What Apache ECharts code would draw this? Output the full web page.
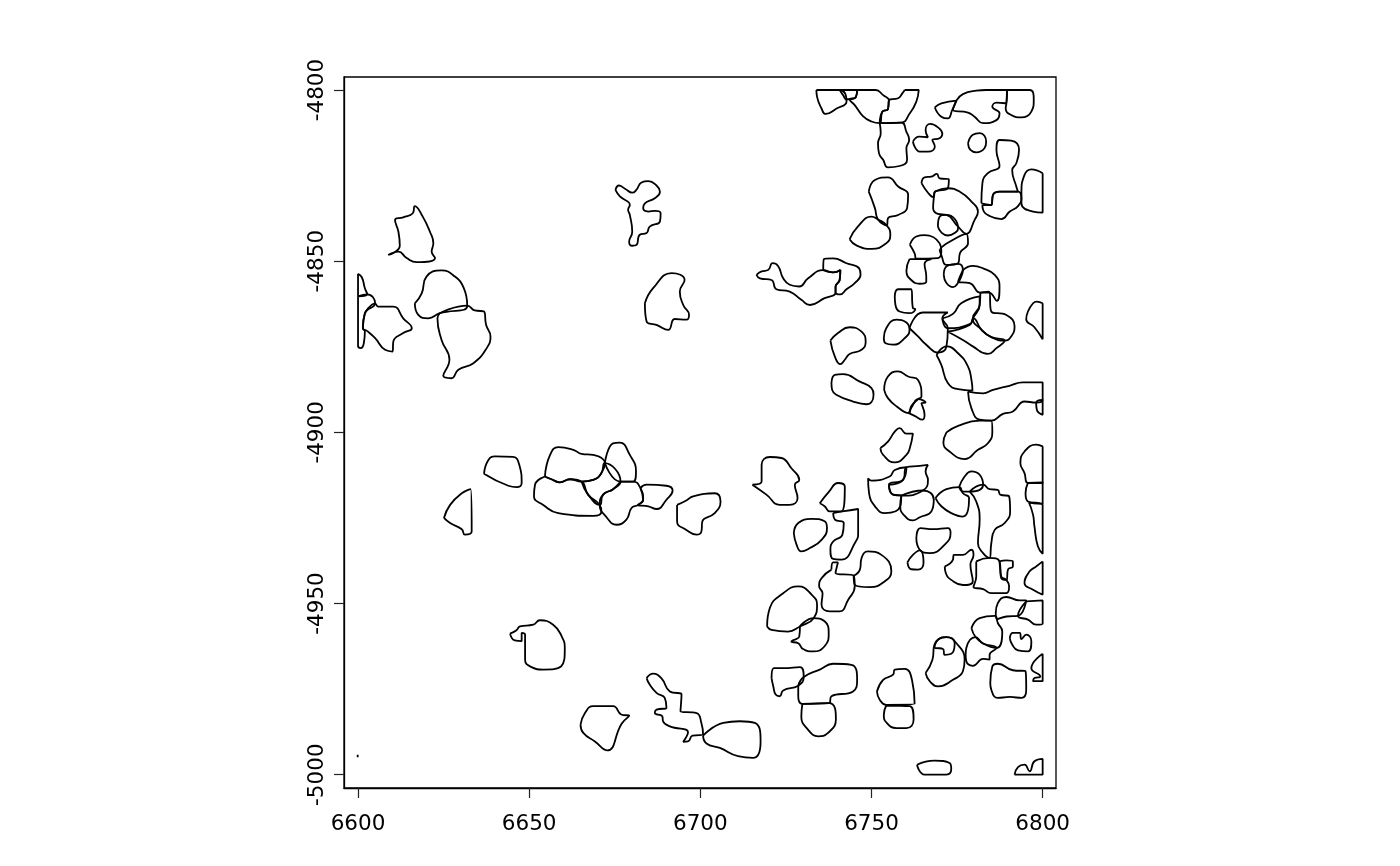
<!DOCTYPE html>
<html><head><meta charset="utf-8"><style>html,body{margin:0;padding:0;background:#fff}#c{width:1400px;height:866px}</style>
<script src="https://cdn.jsdelivr.net/npm/echarts@6/dist/echarts.min.js"></script></head>
<body><div id="c"></div>
<script>
const xTicks=[6600,6650,6700,6750,6800];
const yTicks=[-5000,-4950,-4900,-4850,-4800];
// Each outline: x,y pairs in data units
const a1=[6733.9,-4800,6740.7,-4800,6742.7,-4803.4,6739.8,-4805.4,6736.6,-4807,6735.4,-4805.4,6734.1,-4802];
const a2=[6740.7,-4800,6745.8,-4800,6745.4,-4802.1,6743.6,-4802.7,6742.7,-4802.7,6741.7,-4801.5];
const a3=[6745.8,-4800,6751.2,-4800,6753.4,-4801.5,6755.1,-4803.1,6754.8,-4805.6,6753.2,-4806.3,6752.4,-4809.7,6750,-4809.2,6747.5,-4807.6,6745.1,-4804.4,6743.6,-4802.7,6745.4,-4802.1];
const a4=[6759.7,-4800,6763.8,-4800,6763.1,-4803.4,6761.2,-4806.8,6758.7,-4809.5,6752.4,-4809.7,6753.2,-4806.3,6754.8,-4805.6,6755.1,-4802.9,6757.8,-4802.4,6759,-4801];
const a5=[6752.4,-4809.7,6758.7,-4809.5,6760.2,-4812.2,6761,-4814.6,6760.2,-4817,6760.4,-4820.4,6758.2,-4822.2,6754.8,-4822.6,6753.4,-4820.4,6752.2,-4818.5,6751.9,-4815.6,6752.7,-4812.6];
const a6=[6762.1,-4815.1,6763.9,-4813.6,6766.5,-4813.8,6765.8,-4811.7,6767.2,-4809.9,6769.4,-4810.9,6770.7,-4812.8,6769.9,-4814.1,6767.8,-4814.6,6768.5,-4816.5,6766.5,-4818,6764.1,-4818];
const a7=[6778.2,-4815.6,6779.6,-4813.1,6781.6,-4812.6,6783.5,-4815.1,6783,-4817,6780.6,-4818.2,6778.9,-4817.5];
const a8=[6768.5,-4805.1,6770.4,-4803.9,6774.8,-4803.1,6773.6,-4805.8,6772.3,-4808.3,6770.4,-4807.8];
const a9=[6774.8,-4803.1,6776.7,-4801.2,6780.6,-4800.2,6783.5,-4800,6789.6,-4800,6789.4,-4803.9,6786.5,-4803.7,6785.3,-4804.9,6787.4,-4806.8,6786.5,-4808.8,6782.6,-4809.7,6780.1,-4807.8,6778.2,-4806.6,6773.8,-4805.8];
const a10=[6789.6,-4800,6796.2,-4800,6797.4,-4802.9,6796.7,-4806.3,6793.8,-4808,6790.8,-4807.3,6789.2,-4805.4,6789.4,-4803.9];
const a11=[6782.1,-4833.1,6782.4,-4827.2,6784,-4824.3,6787.4,-4822.2,6786.5,-4817.5,6787.4,-4814.6,6790.8,-4814.8,6793.1,-4817.5,6792.3,-4821.4,6791.1,-4823.4,6792.3,-4828.2,6792.8,-4829.7,6787.4,-4829.7,6785.5,-4830.6,6785,-4833.6];
const a12=[6782.4,-4833.6,6785,-4833.6,6785.5,-4830.6,6787.4,-4829.7,6792.8,-4829.7,6793.8,-4831.6,6792.8,-4833.9,6790.4,-4835.5,6787.9,-4837.7,6784.5,-4836.8,6782.6,-4835];
const a13=[6800,-4824.3,6800,-4835.8,6797.2,-4835.5,6793.8,-4833.1,6793.8,-4830.2,6794.7,-4824.8,6796.7,-4823.2];
const a14=[6749.2,-4829.7,6751,-4826.3,6754.8,-4825.5,6757.8,-4828.2,6760.7,-4830.6,6760.4,-4834.5,6757.8,-4836.5,6754.8,-4837.5,6754.5,-4839.6,6751.9,-4837.8,6751,-4834.5];
const a15=[6743.6,-4843.6,6746,-4839.9,6750,-4837,6751.9,-4837.8,6754.5,-4839.6,6755.5,-4842.3,6754.3,-4844.8,6750,-4846.4,6745.6,-4845.4];
const a16=[6764.6,-4827.2,6765.5,-4825.5,6767.5,-4825.3,6769.1,-4824.5,6769.9,-4825.8,6772.6,-4826.1,6772.3,-4828.7,6768.5,-4829.7,6768,-4831.3,6766.5,-4830];
const a17=[6768.5,-4829.7,6772.3,-4828.7,6775.8,-4829.7,6779.2,-4832.6,6781.1,-4835.5,6780.1,-4838,6777.7,-4842,6775.3,-4839.9,6771.9,-4836.5,6769.4,-4836.2,6768,-4834.5,6768.2,-4831.6];
const a18=[6769.4,-4839.9,6769.9,-4837,6771.9,-4836.5,6775.3,-4840.4,6774.8,-4841.4,6772.3,-4842.5,6770.4,-4841.6];
const a19=[6761.2,-4845.2,6763.1,-4842.8,6765.5,-4842.4,6769.9,-4844.8,6770.4,-4847.2,6769.4,-4849.1,6763.1,-4849.3,6762.6,-4847.7];
const a20=[6769.9,-4846.7,6771.4,-4845.2,6777.7,-4842,6778.2,-4844.8,6775.9,-4847.5,6775.3,-4850.6,6771.9,-4851.1,6770.4,-4848.2];
const b1=[6716.4,-4854,6717.9,-4853,6719.8,-4852.6,6721.1,-4850.6,6722.7,-4851.4,6724.2,-4855,6726.1,-4856.9,6728.9,-4857.4,6731.5,-4855,6735.9,-4852.6,6738.8,-4853.3,6740.9,-4852.6,6740.7,-4855.5,6739.5,-4857.4,6739.5,-4859.2,6736.3,-4860.8,6732,-4862.8,6729.5,-4861.3,6726.1,-4858.9,6722.2,-4858.2,6720.8,-4855.5,6717.4,-4855];
const b2=[6735.9,-4852.6,6736.1,-4849.4,6738.8,-4849.2,6742.7,-4850.6,6746.4,-4852.1,6746.8,-4854,6745.1,-4856.4,6742.7,-4858.2,6740.9,-4859.7,6739.5,-4859.2,6739.5,-4857.4,6740.7,-4855.5,6740.9,-4852.6,6738.8,-4853.3];
const b3=[6761.1,-4849.4,6767.5,-4849.4,6765.5,-4850.8,6766,-4854.5,6766,-4856,6764.1,-4856.6,6761.6,-4855.5,6760.2,-4852.8];
const b4=[6771.1,-4854,6772.1,-4851.4,6775.3,-4850.8,6776.7,-4852.6,6776.2,-4854.5,6775.3,-4856.3,6773.8,-4857.6,6771.9,-4856.4];
const b5=[6776.7,-4852.6,6779.6,-4851.4,6782.6,-4852.1,6786,-4854,6787.4,-4857.4,6786.6,-4861.6,6784.3,-4859.2,6781.8,-4859.2,6778.7,-4856.4,6775.3,-4856];
const b6=[6781.8,-4859.2,6784.3,-4858.9,6785,-4864.7,6789.4,-4865.7,6791.8,-4869.1,6790.8,-4872,6788.9,-4873.2,6785,-4872.2,6782.1,-4870,6779.6,-4866.7,6781.6,-4862.8];
const b7=[6770.7,-4866.7,6773.8,-4865.4,6776.2,-4862.3,6781.6,-4860.3,6781.6,-4862.8,6779.6,-4866.7,6778.9,-4868.3,6772.3,-4869.6];
const b8=[6772.3,-4870.6,6778.7,-4868.6,6779.8,-4866.7,6782.1,-4870,6785,-4872.2,6788.9,-4873.2,6786.5,-4875.4,6784,-4877.1,6779.6,-4874.9,6776.7,-4873];
const b9=[6761.1,-4869.6,6765,-4865,6772.3,-4865,6770.7,-4866.7,6772.3,-4869.6,6771.9,-4874.9,6769.4,-4876.7,6766,-4874.4,6763.6,-4872];
const b10=[6756.8,-4860.3,6757.8,-4858.2,6761.6,-4858.2,6762.1,-4863.7,6762.8,-4864,6761.1,-4865.2,6758.2,-4864.7,6757,-4862.8];
const b11=[6753.6,-4872.5,6754.3,-4869.6,6757.3,-4867.1,6760.2,-4867.9,6761.1,-4870,6759.7,-4872.5,6756.3,-4874.4,6754.1,-4874];
const b12=[6738,-4873.2,6740.2,-4871,6743.6,-4869.3,6747.1,-4870.6,6748.3,-4873.5,6747.1,-4875.9,6743.6,-4877.1,6742.2,-4878.8,6740.9,-4880.1,6739.3,-4877.9];
const b13=[6800,-4862.3,6800,-4872.8,6797.6,-4869.3,6795.2,-4867,6795.7,-4864.7,6797.2,-4862.3,6798.3,-4861.8];
const b14=[6769,-4877.4,6771.9,-4874.9,6775.3,-4876.9,6778.2,-4880.8,6779.2,-4884.7,6779.5,-4887.8,6775.3,-4887.4,6772.3,-4885.6,6770.4,-4880.3];
const b15=[6778.2,-4888.1,6782.6,-4888.6,6785.5,-4887.6,6790.3,-4886.4,6794.2,-4885.4,6800,-4885.4,6800,-4890.5,6798.1,-4891.3,6794.7,-4891,6791.3,-4893.9,6788.4,-4894.6,6785,-4896.6,6781.6,-4896.3,6779.2,-4893];
const b16=[6800,-4890.5,6800,-4894.9,6798.3,-4893.4,6798.1,-4891.3];
const b17=[6753.7,-4887.6,6754.8,-4883.7,6757.7,-4882.2,6760.7,-4883.7,6763.6,-4884.7,6764.6,-4889.5,6763.6,-4890.3,6761.6,-4892.4,6760.9,-4894.4,6757.3,-4892.4,6754.8,-4890];
const b18=[6760.9,-4894.4,6762.1,-4892,6763.6,-4890.3,6765.8,-4891.3,6764.6,-4891.5,6765.5,-4894.9,6764.9,-4896.3,6762.6,-4895.2];
const b19=[6738.3,-4885.6,6739.3,-4883.2,6741.7,-4883,6746.6,-4885.2,6750,-4887.1,6750.6,-4889,6748.5,-4891.8,6744.6,-4891,6739.7,-4889,6738.5,-4887.6];
const b20=[6771.9,-4900,6775.3,-4898.1,6781.6,-4896.6,6785,-4896.6,6785.3,-4900,6784,-4903.2,6781.1,-4905.1,6777.2,-4907.8,6772.8,-4905.6,6771,-4903];
const b21=[6752.6,-4904.6,6754.8,-4902.7,6756.8,-4899.8,6758.2,-4898.8,6760.2,-4900.4,6762.1,-4900.4,6761.2,-4904.6,6760.2,-4906.6,6756.8,-4908.8,6753.4,-4906.6];
const c1=[6800,-4904.1,6800,-4914.8,6795.7,-4914.8,6794.7,-4911.9,6793.5,-4909,6794.7,-4905.6,6798.1,-4903.6];
const c2=[6795.7,-4914.8,6800,-4914.6,6800,-4920.9,6795.7,-4920.2,6795,-4917.8];
const c3=[6796,-4920.5,6800,-4921.2,6800,-4935.5,6798.6,-4933.3,6797.6,-4927.5,6797.2,-4924.1];
const c4=[6715.2,-4915.3,6717.9,-4914.4,6717.9,-4909.5,6720.3,-4907.2,6723.7,-4907.5,6726.6,-4910.5,6728.9,-4913.9,6727.6,-4915.3,6728.4,-4919.2,6726.1,-4921.2,6723.2,-4921.2,6719.3,-4918.2];
const c5=[6734.9,-4920.7,6737.6,-4917.3,6740.2,-4914.8,6742.2,-4915.8,6741.2,-4923.1,6737.8,-4923.1,6736.3,-4921.6];
const c6=[6738.8,-4923.6,6741.5,-4923.1,6746.1,-4922.4,6746.1,-4929.4,6745.4,-4931.9,6741.2,-4937.2,6738.8,-4937,6738,-4934.3,6738.8,-4931.9,6741.5,-4929.9,6741.9,-4926.5,6739.3,-4925.5];
const c7=[6727.3,-4929.4,6728.6,-4926.5,6732.5,-4925.3,6736.3,-4926,6737,-4928,6735.4,-4931.4,6732,-4933.8,6729.5,-4934.8,6728.1,-4932.8];
const c8=[6749,-4913.4,6750,-4914.1,6755.3,-4912.9,6756.8,-4911,6760.2,-4910.2,6759.2,-4913.9,6755.1,-4915.3,6756.3,-4918.2,6758.7,-4918.5,6758.4,-4921.6,6753.9,-4923.6,6751.4,-4922.1,6749.3,-4917.8];
const c9=[6755.1,-4915.3,6759.2,-4913.9,6760.2,-4910.2,6764.1,-4909.8,6766.5,-4909.5,6765.8,-4911.4,6766.5,-4913.9,6765,-4917,6758.7,-4918.5,6756.3,-4918.2];
const c10=[6758.7,-4918.5,6765,-4917,6768.2,-4919.7,6767.5,-4923.1,6764.1,-4924.8,6762.1,-4925.7,6759.4,-4924.1,6758.4,-4921.6];
const c11=[6768.7,-4919.2,6771.9,-4916.6,6775.6,-4916,6776.7,-4917.8,6778.5,-4919.2,6776.7,-4924.6,6773.3,-4923.6,6770.4,-4921.6];
const c12=[6775.6,-4916,6777.2,-4912.9,6779.2,-4911.4,6781.6,-4912.4,6782.6,-4915.3,6778.7,-4917.3,6776.7,-4917.3];
const c13=[6778.7,-4917.3,6782.6,-4915.3,6784.5,-4916.6,6786.9,-4916.8,6787.6,-4918.2,6790.2,-4918.7,6790.5,-4923.1,6788.9,-4926.5,6786,-4928.5,6785,-4932.4,6784.5,-4936.7,6782.6,-4935.3,6781.1,-4932.4,6781.6,-4925.5,6780.6,-4920.2];
const c14=[6763.1,-4930.9,6764.3,-4928,6768,-4928.3,6772.3,-4928,6773.1,-4929.4,6771.4,-4932.8,6767,-4935.3,6764.1,-4934.3];
const c15=[6760.5,-4938,6762.1,-4935.8,6764.1,-4934.5,6765.2,-4938.2,6763.6,-4940.1,6761.6,-4940];
const c16=[6771.4,-4939.2,6773.8,-4937.2,6774,-4935.8,6776.7,-4935.8,6779.2,-4934.3,6779.8,-4935.8,6778.9,-4938.7,6779.6,-4943.5,6776.7,-4944.6,6773.3,-4943.1,6771.7,-4941.1];
const c17=[6780.6,-4937.7,6784.5,-4936.7,6787.4,-4937.7,6787.9,-4942.1,6789.4,-4943.1,6790.2,-4945,6789.4,-4947,6785,-4947,6782.6,-4945.8,6779.8,-4945.2,6780.6,-4942.1];
const c18=[6787.4,-4937.7,6789.4,-4937.4,6791.3,-4937.7,6791.3,-4939.2,6789.9,-4940,6789.4,-4943.1,6787.9,-4942.6,6787.6,-4940.1];
const c19=[6800,-4937.7,6800,-4947.4,6797.2,-4946,6794.7,-4944,6796.2,-4940.6,6798.1,-4939.2];
const c20=[6738.3,-4940.1,6738.8,-4938,6740.2,-4938,6739.5,-4941.1,6744.8,-4941.9,6745.1,-4945,6743.2,-4948.9,6740.7,-4952.3,6737.8,-4952.3,6735.4,-4950.3,6735.7,-4947,6734.7,-4945,6735.4,-4942.6];
const c21=[6744.8,-4941.9,6746.6,-4940.1,6747.1,-4936.7,6749,-4934.8,6752.9,-4935.8,6755.8,-4940.6,6753.9,-4943.5,6749.5,-4945.2,6745.1,-4944.5];
const d1=[6719.5,-4956.7,6720.3,-4951.3,6724.2,-4947,6728.6,-4945,6732.5,-4947.4,6734.1,-4950.4,6733.1,-4954.3,6729.1,-4956.7,6725.6,-4958.2,6720.8,-4957.7];
const d2=[6729.1,-4956.7,6733.1,-4954.3,6736.3,-4955.2,6737.5,-4958.6,6736.3,-4962.5,6732.9,-4964,6730,-4963.3,6728.6,-4961.6,6726.6,-4961.1,6728.9,-4959.6];
const d3=[6720.8,-4971.8,6721.5,-4968.9,6724.2,-4968.9,6729.1,-4968.6,6730.2,-4971.5,6728.6,-4974,6724.2,-4975.4,6723.2,-4977.1,6722,-4976.6,6721.3,-4974.2];
const d4=[6728.6,-4974,6730.2,-4971.5,6734.9,-4969.3,6738.8,-4967.6,6744.1,-4967.9,6745.8,-4972.3,6744.6,-4975.7,6738.3,-4977.1,6737.6,-4979.1,6729.8,-4979.3,6728.6,-4977.1];
const d5=[6729.8,-4979.3,6737.6,-4979.1,6739.6,-4983.9,6737.3,-4987.8,6734.4,-4988.8,6731.5,-4986.9,6729.5,-4983];
const d6=[6751.6,-4975.7,6753.4,-4972.3,6756.3,-4970.8,6756.8,-4969.3,6759.7,-4969.1,6761.9,-4972.7,6762.6,-4979.3,6754.3,-4979.6,6752.4,-4978.1];
const d7=[6754.3,-4979.8,6761.2,-4980,6762.3,-4983.9,6760.2,-4986.4,6757.3,-4986.4,6754.3,-4984.7,6753.6,-4982.5];
const d8=[6765.8,-4970.3,6767.8,-4966.4,6768.4,-4962,6771.9,-4959.8,6774.8,-4961.6,6777.2,-4966.4,6776.7,-4969.8,6773.8,-4972.3,6769.4,-4974.2,6767,-4972.7];
const d9=[6768.4,-4963,6770.9,-4963.3,6771.4,-4965,6773.3,-4964.7,6774.3,-4961.6,6771.9,-4959.8,6769.4,-4960.6];
const d10=[6777.5,-4965,6777.7,-4963,6780.4,-4959.8,6782.6,-4961.7,6786.5,-4963,6784.5,-4965,6784.5,-4966.4,6782.6,-4966.2,6779.6,-4968.2,6777.7,-4966.9];
const d11=[6779.2,-4957.2,6781.6,-4954.3,6786,-4953.6,6786.9,-4955.7,6788.2,-4958.2,6786.5,-4963,6782.6,-4961.7,6780.4,-4959.8];
const d12=[6786.3,-4952.8,6786.9,-4949.9,6789.4,-4948.1,6793.3,-4949.1,6795.2,-4949.1,6792.8,-4953.6,6789.4,-4953.8,6786.6,-4954.6];
const d13=[6795.2,-4949.4,6800,-4949.1,6800,-4955.9,6798.1,-4956.2,6795.7,-4954.7,6792.8,-4953.6];
const d14=[6790.4,-4960.1,6791.3,-4958.6,6793.3,-4958.6,6793.8,-4960.4,6795.2,-4959.1,6796.7,-4961,6795.7,-4964,6792.8,-4963.7,6791.1,-4962];
const d15=[6800,-4964.7,6800,-4972.7,6797.2,-4972.7,6797.6,-4971.8,6799.3,-4971.3,6796.7,-4968.9];
const d16=[6784.7,-4973.2,6785.3,-4968.4,6786.9,-4967.6,6791.3,-4969.5,6795,-4969.8,6795.2,-4975.2,6793.8,-4977.6,6790.4,-4977.3,6786.9,-4977.6,6785,-4975.2];
const d17=[6763.3,-4997.1,6768.4,-4995.9,6772.8,-4996.6,6773.3,-4998.3,6771.9,-5000,6765.5,-5000];
const d18=[6791.8,-5000,6792.8,-4997.8,6794.7,-4997.1,6796.2,-4999,6797.6,-4996.1,6800,-4995.4,6800,-5000];
const e1=[6608.8,-4848.2,6612.2,-4845.5,6611.8,-4841.4,6610.8,-4838,6613.2,-4837.2,6616,-4836,6616.6,-4833.9,6618.9,-4837,6621,-4841.4,6622,-4844.8,6621.5,-4847.2,6622.5,-4849.1,6617.1,-4850.3,6614.2,-4849.1,6611.8,-4847.2];
const e2=[6600,-4853.7,6601.1,-4854.7,6602,-4857.9,6602.7,-4859.7,6600,-4860.3];
const e3=[6600,-4860.3,6602.7,-4859.7,6605,-4862.3,6602,-4865.2,6601.4,-4869.6,6602,-4870.5,6601.7,-4873.9,6600.8,-4875.4,6600,-4874.7];
const e4=[6602,-4865.2,6605,-4862.4,6605.9,-4863.3,6610.3,-4863.3,6613.2,-4866.7,6615.7,-4869.6,6613.2,-4871,6610.3,-4873.5,6610.1,-4876.4,6607.9,-4875.9,6605,-4872.5,6602.5,-4870.3,6601.4,-4869.6];
const e5=[6616.6,-4862.3,6618.6,-4859.4,6620,-4854.5,6624.4,-4852.7,6628.3,-4854.5,6630.9,-4857.9,6631.9,-4863,6623.9,-4865.2,6620.5,-4866.7,6617.6,-4865.7];
const e6=[6623.9,-4865.2,6631.9,-4863,6634.1,-4864.4,6636.8,-4864.7,6637.4,-4868.6,6638.7,-4872,6637.6,-4875.4,6633.7,-4879.8,6629.3,-4881.7,6627.3,-4884.2,6624.9,-4883.5,6626.7,-4878.8,6624.4,-4873,6623.2,-4866.7];
const e7=[6683.8,-4862.3,6686.2,-4857.9,6691.6,-4853.5,6695.4,-4855.5,6694,-4858.9,6695,-4862.8,6696.7,-4865.7,6695.9,-4867.1,6692.5,-4866.9,6690.6,-4870.1,6687.2,-4868.6,6684.3,-4867.6];
const e8=[6675.2,-4829.2,6676.2,-4827.9,6678.1,-4828.9,6680.1,-4830,6681.3,-4829.2,6682.8,-4827,6684.8,-4826.6,6687.2,-4827.9,6688.2,-4829.7,6686.7,-4831.6,6683.8,-4833.1,6683.3,-4834.5,6684.8,-4835.5,6686.7,-4835.3,6688.4,-4836,6688.2,-4838.4,6685.2,-4839.9,6684.3,-4841.8,6682.3,-4842.3,6681.3,-4845.3,6680.1,-4845.5,6679.2,-4844.3,6680.1,-4841.4,6679.4,-4836.5,6678.9,-4835,6679.4,-4833.6,6676.5,-4831.1];
const f1=[6625.1,-4925,6626.9,-4921.2,6630.3,-4917.8,6632.9,-4916.6,6633.2,-4929,6631.2,-4929.9,6630.3,-4928.3,6626.9,-4926.5];
const f2=[6636.8,-4912.1,6638,-4908.2,6640,-4907,6645.3,-4907.2,6647.1,-4909.5,6647.8,-4914.8,6646.3,-4916,6643.9,-4915.6];
const f3=[6654.6,-4912.9,6656.1,-4906.6,6658.5,-4904.3,6662.9,-4905.1,6665.3,-4906.3,6668.7,-4906.6,6672.1,-4909,6671.1,-4911.9,6668.7,-4913.9,6665.3,-4914.4,6661.9,-4913.7,6659,-4914.6,6656.5,-4913.7];
const f4=[6654.6,-4912.9,6656.5,-4913.7,6659,-4914.6,6661.9,-4913.7,6665.3,-4914.4,6667.2,-4918.2,6670.6,-4921.2,6671.1,-4923.1,6668.7,-4924.4,6658.5,-4923.6,6654.1,-4921.2,6651.4,-4918.7,6651.7,-4915.3];
const f5=[6665.3,-4914.4,6668.7,-4913.9,6671.1,-4911.9,6672.1,-4909,6676.7,-4914.4,6674.5,-4916.6,6671.6,-4918.2,6670.6,-4921.2,6667.2,-4918.2];
const f6=[6672.1,-4909,6674.5,-4903.2,6676.5,-4903,6679.4,-4906.6,6681.2,-4911.4,6680.4,-4914.4,6676.7,-4914.4];
const f7=[6676.7,-4914.4,6680.4,-4914.4,6682.5,-4916.3,6683.3,-4919.7,6681.8,-4921.2,6679.9,-4922.1,6678.4,-4925.5,6675.5,-4927,6672.6,-4924.8,6670.6,-4921.2,6671.6,-4918.2,6674.5,-4916.6];
const f8=[6682.5,-4916.3,6684.3,-4915.3,6690.1,-4915.6,6691.9,-4917,6690.1,-4919.7,6687.2,-4922.4,6684.8,-4921.6,6681.8,-4921.2,6683.3,-4919.7];
const f9=[6693.2,-4921.2,6695.9,-4919.9,6697.9,-4918.7,6704.2,-4917.8,6705.9,-4920.2,6704.2,-4923.6,6700.6,-4926,6700.3,-4929,6698.9,-4929.9,6695.9,-4928.5,6693.2,-4926];
const g1=[6644.4,-4958.8,6646.3,-4957.8,6647.3,-4956.7,6651.2,-4956.2,6653.1,-4954.9,6657,-4956.2,6659.5,-4959.6,6660.4,-4963,6659.3,-4968.4,6654.1,-4969.3,6650.7,-4968.6,6648.8,-4966.4,6648.8,-4959.1,6647.8,-4958.6,6647.8,-4961,6645.8,-4960.8];
const g2=[6665,-4985.4,6666.3,-4982,6668.7,-4980,6674.5,-4980,6677,-4982.5,6679.2,-4982.8,6677,-4985.1,6672.8,-4992.9,6669.2,-4990.3,6665.8,-4987.8];
const g3=[6684.3,-4971.8,6686.2,-4970.5,6688.6,-4971.8,6691.1,-4975.7,6694.5,-4976.6,6694.2,-4981.5,6698.9,-4982,6700.3,-4984.9,6700.8,-4988.3,6697.7,-4988.6,6696.4,-4990.3,6695,-4990.4,6696.4,-4987.6,6691.1,-4985.9,6689.1,-4984.4,6688.9,-4983,6686.7,-4982,6687.2,-4981,6690.1,-4980.5,6689.6,-4977.6,6687.2,-4976.1,6685.2,-4973.7];
const g4=[6700.8,-4988.6,6706.7,-4984.9,6711.5,-4984.4,6715.9,-4984.9,6717.6,-4990.3,6715.4,-4995.1,6711,-4994.6,6705.7,-4992.2,6701.8,-4990.9];
const g5=[6599.9,-4994.2,6599.9,-4994.9];
const outlines=[a1,a2,a3,a4,a5,a6,a7,a8,a9,a10,a11,a12,a13,a14,a15,a16,a17,a18,a19,a20,b1,b2,b3,b4,b5,b6,b7,b8,b9,b10,b11,b12,b13,b14,b15,b16,b17,b18,b19,b20,b21,c1,c2,c3,c4,c5,c6,c7,c8,c9,c10,c11,c12,c13,c14,c15,c16,c17,c18,c19,c20,c21,d1,d2,d3,d4,d5,d6,d7,d8,d9,d10,d11,d12,d13,d14,d15,d16,d17,d18,e1,e2,e3,e4,e5,e6,e7,e8,f1,f2,f3,f4,f5,f6,f7,f8,f9,g1,g2,g3,g4,g5];

function toPairs(f){const p=[];for(let i=0;i<f.length;i+=2)p.push([f[i],f[i+1]]);p.push([f[0],f[1]]);return p;}
const axisFont={color:'#000',fontFamily:'DejaVu Sans',fontSize:21.5,formatter:v=>String(v),hideOverlap:false};
const chart=echarts.init(document.getElementById('c'),null,{renderer:'canvas'});
chart.setOption({
  animation:false,
  backgroundColor:'#fff',
  grid:{left:344,top:77,width:712,height:711,show:true,backgroundColor:'transparent',borderColor:'#000',borderWidth:1.3,containLabel:false},
  xAxis:{type:'value',min:6595.9,max:6803.9,splitLine:{show:false},
    axisLine:{show:true,onZero:false,lineStyle:{color:'#000',width:1.3}},
    axisTick:{show:true,length:10,lineStyle:{color:'#222',width:1.2},customValues:xTicks},
    axisLabel:Object.assign({},axisFont,{margin:25,customValues:xTicks})},
  yAxis:{type:'value',min:-5003.9,max:-4796.2,splitLine:{show:false},
    axisLine:{show:true,onZero:false,lineStyle:{color:'#000',width:1.3}},
    axisTick:{show:true,length:10,lineStyle:{color:'#222',width:1.2},customValues:yTicks},
    axisLabel:Object.assign({},axisFont,{margin:16,rotate:90,customValues:yTicks})},
  series:outlines.map(f=>({type:'line',data:toPairs(f),smooth:0.5,symbol:'none',silent:true,
    lineStyle:{color:'#000',width:1.8},z:2}))
});
</script></body></html>
